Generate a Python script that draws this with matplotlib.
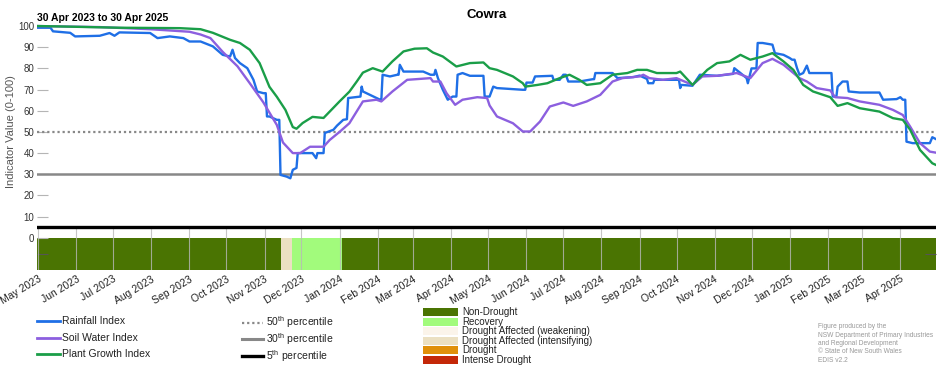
import matplotlib
matplotlib.use('Agg')
import matplotlib.pyplot as plt
import matplotlib.transforms as mtransforms
from matplotlib.lines import Line2D
from matplotlib.patches import Rectangle
import pandas as pd

plt.rcParams['font.family'] = ['Liberation Sans', 'DejaVu Sans']
plt.rcParams['mathtext.fontset'] = 'custom'
plt.rcParams['mathtext.rm'] = 'Liberation Sans'

# ---------------- data ----------------
start = pd.Timestamp('2023-04-30')
end = pd.Timestamp('2025-04-30')

# days since 30 Apr 2023
rain_day = [0, 11, 13, 27, 31, 51, 59, 63, 67, 92, 98, 108, 119, 124, 133, 143, 151, 157, 159, 161,
            165, 171, 176, 179, 184, 186, 187, 189, 195, 197, 198, 203, 206, 208, 211, 212, 224, 227,
            228, 233, 234, 241, 244, 249, 252, 253, 263, 264, 265, 276, 279, 280, 281, 287, 293, 294,
            295, 298, 314, 320, 323, 324, 326, 330, 334, 338, 341, 342, 346, 352, 363, 364, 368, 371,
            374, 395, 397, 398, 403, 405, 417, 419, 420, 425, 428, 430, 432, 441, 452, 453, 454, 468,
            472, 485, 490, 496, 497, 501, 502, 521, 522, 523, 524, 533, 539, 553, 566, 567, 572, 577,
            578, 581, 585, 586, 590, 598, 600, 607, 612, 614, 616, 618, 620, 623, 626, 628, 645, 646,
            647, 650, 651, 655, 659, 660, 669, 685, 688, 699, 702, 704, 706, 707, 712, 726, 728, 731]
rain_val = [99.2, 99.2, 97.5, 96.8, 95.1, 95.4, 96.7, 95.4, 97.0, 96.7, 94.3, 95.1, 94.3, 92.7, 92.7,
            90.4, 86.4, 85.6, 88.8, 84.9, 82.5, 80.1, 74.6, 69.1, 68.3, 68.3, 57.3, 57.3, 55.7, 55.7,
            29.7, 28.9, 28.1, 32.1, 33.0, 40.0, 40.0, 37.6, 40.0, 40.0, 49.5, 51.0, 53.0, 55.7, 56.0,
            66.0, 66.7, 71.4, 69.1, 66.0, 65.2, 65.2, 77.0, 76.2, 77.0, 77.0, 81.7, 78.5, 78.5, 77.0,
            77.0, 79.3, 75.4, 69.9, 65.2, 66.7, 66.7, 77.0, 77.8, 76.5, 76.5, 66.7, 66.7, 71.4, 70.7,
            69.9, 69.9, 73.3, 73.3, 76.2, 76.5, 76.5, 74.6, 74.6, 77.0, 77.0, 73.8, 73.8, 74.9, 74.9,
            77.8, 77.8, 75.4, 75.9, 76.6, 75.0, 73.0, 73.0, 74.6, 74.6, 74.6, 70.7, 72.2, 71.8, 77.0,
            76.5, 77.4, 80.1, 77.8, 75.4, 73.0, 80.0, 80.0, 92.0, 92.0, 91.2, 87.2, 86.4, 84.9, 84.1,
            84.1, 80.1, 77.0, 77.8, 81.3, 77.8, 77.8, 77.8, 66.7, 66.7, 71.4, 73.8, 73.8, 69.1, 68.6,
            68.6, 65.2, 65.5, 66.4, 65.2, 65.2, 45.4, 44.7, 44.7, 47.5, 46.6]

soil_day = [0, 51, 92, 124, 133, 141, 151, 163, 173, 184, 195, 200, 208, 214, 222, 233, 238, 246, 254,
            265, 276, 280, 289, 301, 320, 322, 328, 333, 340, 346, 358, 366, 368, 374, 387, 395, 401,
            409, 417, 428, 436, 447, 458, 468, 476, 490, 493, 498, 509, 520, 533, 541, 553, 569, 580,
            590, 598, 607, 612, 620, 626, 634, 645, 649, 659, 669, 685, 696, 704, 710, 718, 726, 731]
soil_val = [100.0, 99.5, 98.5, 97.3, 96.0, 94.3, 87.8, 81.0, 73.0, 64.0, 53.3, 45.0, 40.0, 40.0, 43.0,
            43.0, 46.2, 50.0, 54.1, 64.4, 65.2, 64.4, 69.1, 74.6, 75.4, 73.8, 73.8, 68.3, 62.8, 65.2,
            66.4, 66.0, 62.5, 57.3, 54.1, 50.2, 50.2, 54.9, 62.0, 63.9, 62.3, 64.4, 67.5, 73.8, 75.4,
            76.2, 77.0, 75.4, 74.6, 75.4, 72.2, 76.2, 76.5, 77.8, 75.4, 82.5, 84.5, 81.7, 79.3, 75.4,
            73.8, 70.7, 69.6, 66.4, 66.0, 64.4, 62.8, 60.4, 58.0, 52.5, 44.7, 40.7, 40.2]

plant_day = [0, 19, 67, 116, 133, 143, 157, 165, 173, 181, 189, 195, 202, 208, 211, 216, 224, 233, 238,
             246, 254, 260, 265, 273, 281, 289, 298, 307, 317, 322, 330, 341, 352, 363, 368, 374, 387,
             395, 397, 407, 415, 425, 433, 441, 447, 458, 468, 480, 488, 496, 504, 520, 523, 533, 545,
             553, 563, 572, 580, 590, 598, 607, 615, 623, 631, 645, 651, 659, 669, 685, 696, 704, 710,
             718, 728, 731]
plant_val = [100.0, 99.8, 99.2, 99.0, 98.5, 96.8, 93.5, 92.0, 88.8, 82.5, 71.3, 66.6, 60.4, 52.3, 51.5,
             54.2, 57.1, 56.6, 59.6, 64.4, 69.0, 73.8, 78.0, 80.1, 78.5, 83.3, 88.0, 89.3, 89.5, 87.5,
             85.6, 80.9, 82.5, 82.8, 80.1, 79.3, 76.2, 73.0, 71.4, 72.2, 73.0, 75.4, 77.0, 74.6, 72.2,
             73.0, 77.0, 77.8, 79.3, 79.3, 77.8, 77.8, 78.5, 72.2, 79.3, 82.5, 83.3, 86.4, 84.1, 85.6,
             87.2, 83.3, 79.3, 72.2, 69.1, 66.4, 62.3, 63.6, 61.2, 59.6, 56.5, 55.7, 51.0, 41.5, 35.2,
             34.4]

drought_start = ['2023-04-30', '2023-11-14', '2023-11-23', '2024-01-03']
drought_end = ['2023-11-14', '2023-11-23', '2024-01-03', '2025-04-30']
drought_cat = ['Non-Drought', 'Drought Affected (intensifying)', 'Recovery', 'Non-Drought']

drought_names = ['Non-Drought', 'Recovery', 'Drought Affected (weakening)',
                 'Drought Affected (intensifying)', 'Drought', 'Intense Drought']
drought_colors = ['#4a7402', '#a2fb7c', '#fbf4ea', '#ebe0c2', '#e0900a', '#c42808']

month_labels = ['May 2023', 'Jun 2023', 'Jul 2023', 'Aug 2023', 'Sep 2023', 'Oct 2023', 'Nov 2023',
                'Dec 2023', 'Jan 2024', 'Feb 2024', 'Mar 2024', 'Apr 2024', 'May 2024', 'Jun 2024',
                'Jul 2024', 'Aug 2024', 'Sep 2024', 'Oct 2024', 'Nov 2024', 'Dec 2024', 'Jan 2025',
                'Feb 2025', 'Mar 2025', 'Apr 2025']
month_ticks = pd.date_range('2023-05-01', '2025-04-01', freq='MS')

series_names = ['Rainfall Index', 'Soil Water Index', 'Plant Growth Index']
series_colors = ['#1f6fe6', '#8c5fdf', '#1a9e48']

pct_values = [50, 30, 5]
pct_labels = ['50$^{\\mathrm{th}}$ percentile', '30$^{\\mathrm{th}}$ percentile',
              '5$^{\\mathrm{th}}$ percentile']

# ---------------- figure ----------------
W, H = 952, 370
fig = plt.figure(figsize=(W / 100, H / 100), dpi=100)
ax = fig.add_axes([37 / W, 1 - 270 / H, 899 / W, (270 - 21.8) / H])
ylo, yhi = -15.2, 102
ax.set_xlim(start, end)
ax.set_ylim(ylo, yhi)
for s in ax.spines.values():
    s.set_visible(False)


def to_dates(days):
    return start + pd.to_timedelta(days, unit='D')


# drought bar
cmap = dict(zip(drought_names, drought_colors))
for s0, s1, c in zip(drought_start, drought_end, drought_cat):
    d0 = pd.Timestamp(s0)
    d1 = pd.Timestamp(s1)
    ax.bar(d0, height=0 - ylo, width=(d1 - d0).days, bottom=ylo, align='edge',
           color=cmap[c], linewidth=0, zorder=1)

# monthly grid lines in the lower band
ax.vlines(month_ticks, ylo, 5, color='#b8b8b8', lw=0.8, alpha=0.8, zorder=2)

# percentile lines
ax.axhline(pct_values[0], color='#888888', lw=1.6, ls=(0, (1, 1.3)), zorder=3)
ax.axhline(pct_values[1], color='#888888', lw=1.8, zorder=3)
ax.axhline(pct_values[2], color='#000000', lw=2.4, zorder=3)

# index series
for dd, vv, col in zip([rain_day, soil_day, plant_day], [rain_val, soil_val, plant_val], series_colors):
    ax.plot(to_dates(dd), vv, color=col, lw=1.7, zorder=4, solid_joinstyle='round')

# axes ticks
ax.set_yticks([0, 10, 20, 30, 40, 50, 60, 70, 80, 90, 100])
ax.set_yticks([-7.6], minor=True)
ax.tick_params(axis='y', which='major', direction='in', length=8, width=0.8, color='#b5b5b5',
               labelsize=7, labelcolor='#333333', pad=2)
ax.tick_params(axis='y', which='minor', direction='in', length=8, width=0.8, color='#555555',
               left=True, right=True, labelleft=False)
ax.set_xticks(month_ticks, month_labels)
ax.tick_params(axis='x', length=0, labelsize=7.5, pad=3, labelcolor='#222222')
offset = mtransforms.ScaledTranslation(5 / 100, 0, fig.dpi_scale_trans)
for lbl in ax.get_xticklabels():
    lbl.set_rotation(31)
    lbl.set_ha('right')
    lbl.set_transform(lbl.get_transform() + offset)

ax.set_ylabel('Indicator Value (0-100)', fontsize=8, color='#555555')
ax.yaxis.set_label_coords(-21 / 899, (50 - ylo) / (yhi - ylo))

# titles
fig.text(487 / W, 1 - 15 / H, 'Cowra', fontsize=9.5, fontweight='bold', ha='center', va='center')
fig.text(37 / W, 1 - 18 / H, '30 Apr 2023 to 30 Apr 2025', fontsize=7.5, fontweight='bold',
         ha='left', va='center')


def fx(x):
    return x / W


def fy(y):
    return 1 - y / H


# legend: indices
for i, (name, col) in enumerate(zip(series_names, series_colors)):
    y = 321 + i * 16.7
    fig.add_artist(Line2D([fx(37), fx(60)], [fy(y), fy(y)], color=col, lw=2))
    fig.text(fx(62), fy(y), name, fontsize=7.5, va='center', ha='left', color='#222222')

# legend: percentiles
pct_styles = [dict(color='#888888', lw=1.6, ls=(0, (1, 1.3))),
              dict(color='#888888', lw=2.2),
              dict(color='#000000', lw=2.4)]
for i, (lab, st) in enumerate(zip(pct_labels, pct_styles)):
    y = 322.5 + i * 16.6
    fig.add_artist(Line2D([fx(242), fx(263)], [fy(y), fy(y)], **st))
    fig.text(fx(266), fy(y), lab, fontsize=7.5, va='center', ha='left', color='#222222')

# legend: drought categories
for i, (name, col) in enumerate(zip(drought_names, drought_colors)):
    yc = 312 + i * 9.6
    fig.add_artist(Rectangle((fx(423), fy(yc + 3.9)), 35 / W, 7.8 / H, facecolor=col,
                             edgecolor='none', transform=fig.transFigure))
    fig.text(fx(462), fy(yc), name, fontsize=7, va='center', ha='left', color='#222222')

# credits
credit = ['Figure produced by the', 'NSW Department of Primary Industries',
          'and Regional Development', '\u00a9 State of New South Wales', 'EDIS v2.2']
for i, line in enumerate(credit):
    fig.text(fx(818), fy(327 + i * 8.3), line, fontsize=4.8, va='center', ha='left', color='#999999')

fig.savefig('out.png', dpi=100)
